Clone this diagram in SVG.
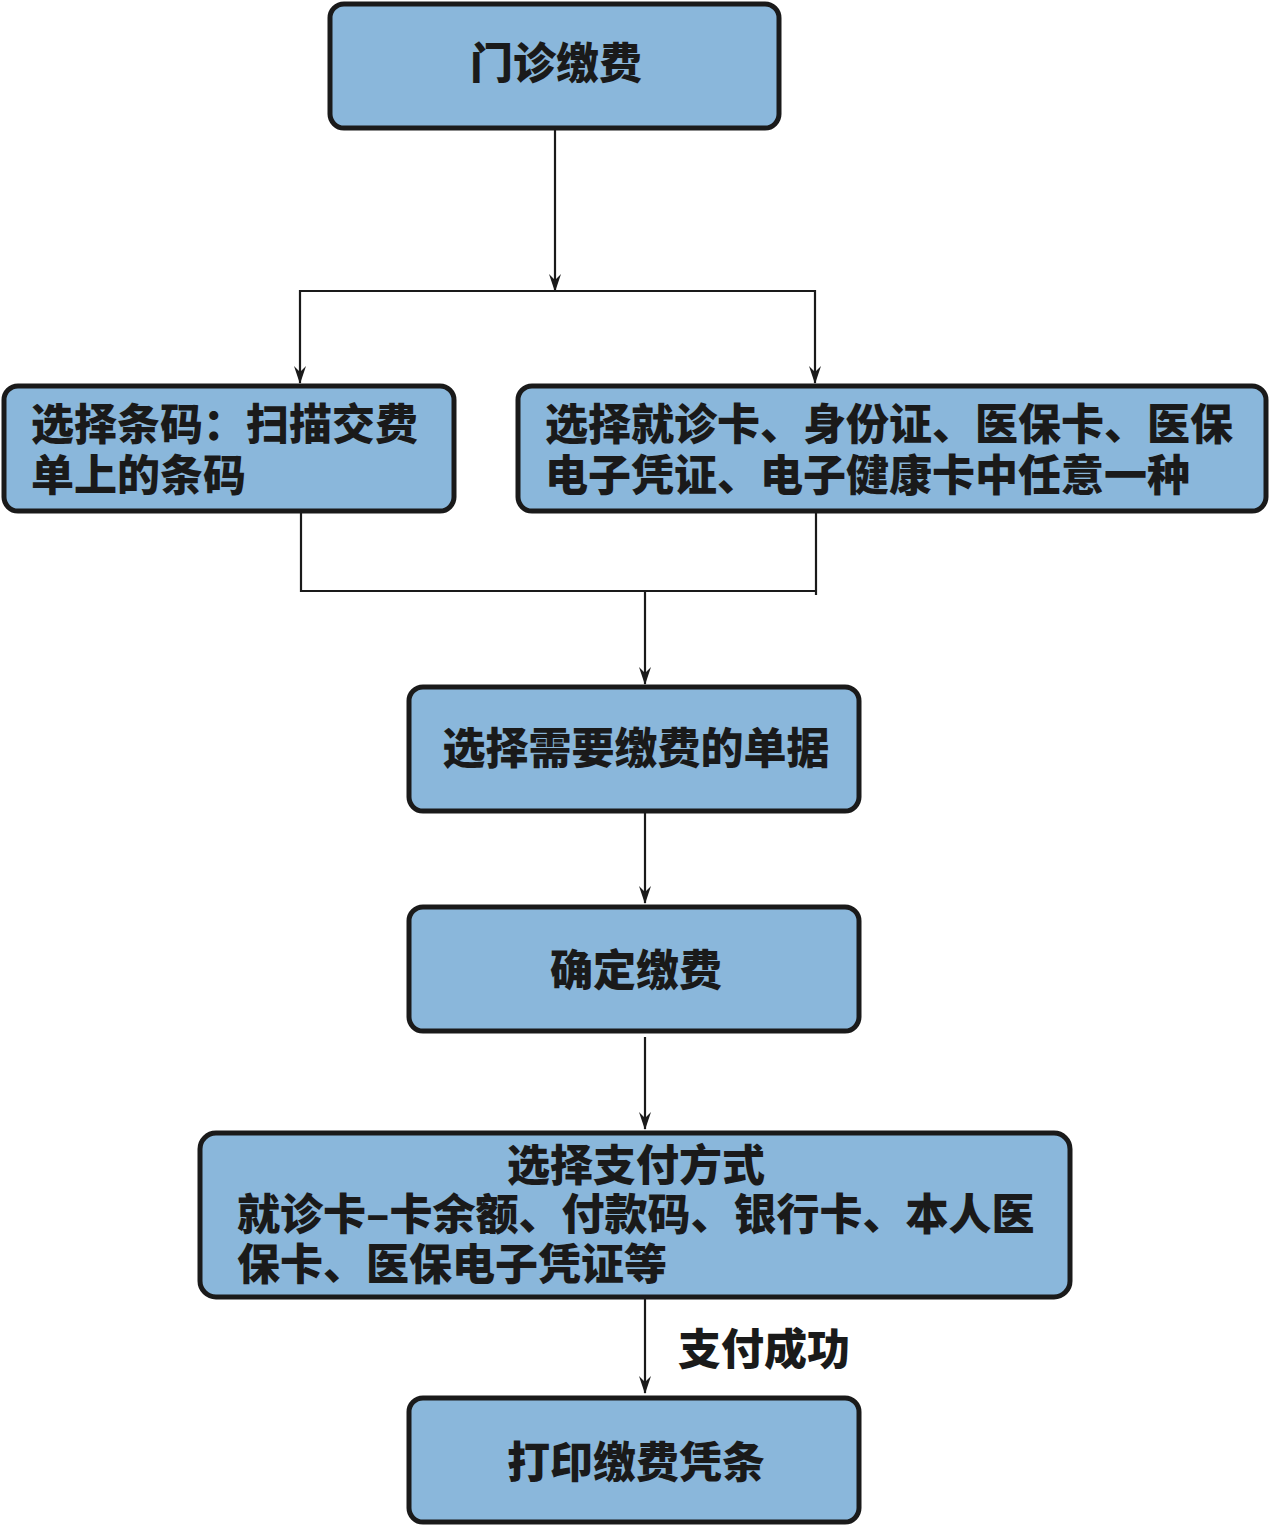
<svg xmlns="http://www.w3.org/2000/svg" width="1270" height="1526" viewBox="0 0 1270 1526">
<style>
.box{fill:#8ab7db;stroke:#1a1a1a;stroke-width:5}
.t{font-family:"Noto Sans CJK SC","Noto Sans",sans-serif;font-weight:900;font-size:43px;fill:#1a1a1a}
.c{text-anchor:middle}
.ln{fill:none;stroke:#1a1a1a;stroke-width:2.2}
.ah{fill:#1a1a1a}
</style>
<defs>
<path id="head" d="M-6,-18 L0,-12 L6,-18 L0,0 Z"/>
</defs>
<rect width="1270" height="1526" fill="#ffffff"/>
<g id="connectors">
<path class="ln" d="M555,128 V291"/>
<use href="#head" class="ah" x="555" y="292"/>
<path class="ln" d="M300,383 V291 H815 V383"/>
<use href="#head" class="ah" x="300" y="384"/>
<use href="#head" class="ah" x="815" y="384"/>
<path class="ln" d="M301,512 V591 H816 M816,512 V595"/>
<path class="ln" d="M645,591 V684"/>
<use href="#head" class="ah" x="645" y="685"/>
<path class="ln" d="M645,811 V903"/>
<use href="#head" class="ah" x="645" y="904"/>
<path class="ln" d="M645,1037 V1129"/>
<use href="#head" class="ah" x="645" y="1130"/>
<path class="ln" d="M645,1298 V1393"/>
<use href="#head" class="ah" x="645" y="1394"/>
<text class="t" x="678" y="1365">支付成功</text>
</g>
<g id="n1">
<rect class="box" x="330" y="4" width="449" height="124" rx="14"/>
<text class="t c" x="556" y="79">门诊缴费</text>
</g>
<g id="n2">
<rect class="box" x="4" y="386" width="450" height="125" rx="14"/>
<text class="t" x="31" y="440">选择条码：扫描交费</text>
<text class="t" x="31" y="491">单上的条码</text>
</g>
<g id="n3">
<rect class="box" x="518" y="386" width="748" height="125" rx="14"/>
<text class="t" x="545" y="440">选择就诊卡、身份证、医保卡、医保</text>
<text class="t" x="545" y="491">电子凭证、电子健康卡中任意一种</text>
</g>
<g id="n4">
<rect class="box" x="409" y="687" width="450" height="124" rx="14"/>
<text class="t c" x="636" y="764">选择需要缴费的单据</text>
</g>
<g id="n5">
<rect class="box" x="409" y="907" width="450" height="124" rx="14"/>
<text class="t c" x="636" y="986">确定缴费</text>
</g>
<g id="n6">
<rect class="box" x="200" y="1133" width="870" height="164" rx="16"/>
<text class="t c" x="636" y="1181">选择支付方式</text>
<text class="t" x="237" y="1230">就诊卡–卡余额、付款码、银行卡、本人医</text>
<text class="t" x="237" y="1280">保卡、医保电子凭证等</text>
</g>
<g id="n7">
<rect class="box" x="409" y="1398" width="450" height="124" rx="14"/>
<text class="t c" x="636" y="1478">打印缴费凭条</text>
</g>
</svg>
